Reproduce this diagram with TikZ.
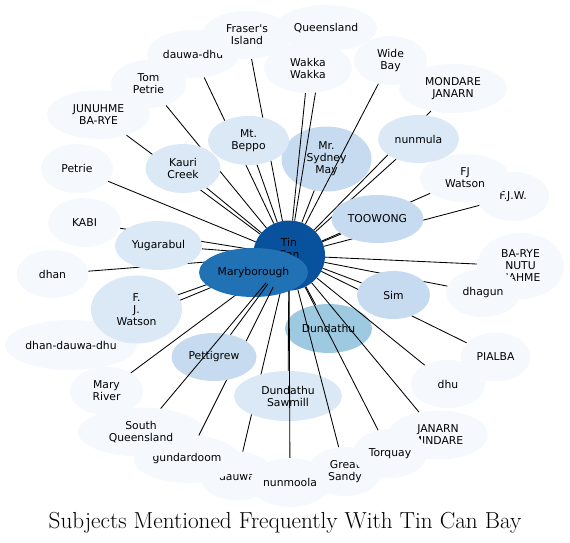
\documentclass[tikz,border=0pt]{standalone}
\usepackage{fontspec}
\newfontfamily\lab{DejaVu Sans}
\usetikzlibrary{shapes.geometric}
\pgfdeclarelayer{ea}
\pgfdeclarelayer{mid}
\pgfdeclarelayer{eb}
\pgfdeclarelayer{fr}
\pgfdeclarelayer{ec}
\pgfsetlayers{main,ea,mid,eb,fr,ec}
\definecolor{c0}{HTML}{F5F9FE}
\definecolor{c1}{HTML}{DBE9F6}
\definecolor{c2}{HTML}{C6DBEF}
\definecolor{c3}{HTML}{9ECAE1}
\definecolor{c4}{HTML}{2171B5}
\definecolor{c5}{HTML}{08519C}
\tikzset{
  nd/.style={ellipse, inner sep=0pt, draw=none, align=center, text=black,
    font=\lab\fontsize{10.8}{12}\selectfont},
  sz/.style 2 args={minimum width=#1pt, minimum height=#2pt},
  v0/.style={nd, fill=c0},
  v1/.style={nd, fill=c1},
  v2/.style={nd, fill=c2},
  v3/.style={nd, fill=c3},
  v4/.style={nd, fill=c4},
  v5/.style={nd, fill=c5},
  ed/.style={draw=black, line width=0.85pt},
  ttl/.style={font=\fontsize{23.2}{27}\selectfont, anchor=base, inner sep=0pt}
}
\begin{document}
\begin{tikzpicture}[x=1pt,y=-1pt]
\useasboundingbox (0,0) rectangle (570,543);
% ---- back nodes ----
\node[v0, sz={102}{46}] (q) at (326,28) {Queensland};
\node[v0, sz={92}{48}] (dd) at (193,54) {dauwa-dhu};
\node[v0, sz={90}{48}] (fi) at (247,35) {Fraser's\\Island};
\node[v0, sz={75}{48}] (tp) at (148.5,84) {Tom\\Petrie};
\node[v0, sz={103}{49}] (ju) at (98.5,114.5) {JUNUHME\\BA-RYE};
\node[v0, sz={72}{49}] (pe) at (77,168.5) {Petrie};
\node[v2, sz={90}{65}] (sm) at (326.5,159) {Mr.\\Sydney\\May};
\node[v0, sz={73}{49}] (wb) at (390.5,60.5) {Wide\\Bay};
\node[v0, sz={108}{49}] (mj) at (453,88.5) {MONDARE\\JANARN};
\node[v0, sz={72}{49}] (fjw) at (513,196.5) {F.J.W.};
\node[v0, sz={90}{48}] (fw) at (465,178) {FJ\\Watson};
\node[v0, sz={87}{66}] (br) at (520.5,266) {BA-RYE\\NUTU\\NAHME};
\node[v0, sz={74}{48}] (dg) at (483,293) {dhagun};
\node[v0, sz={70}{49}] (pi) at (495.5,357) {PIALBA};
\node[v0, sz={74}{48}] (dh) at (448,384) {dhu};
\node[v0, sz={100}{49}] (jm) at (438,435) {JANARN\\MINDARE};
\node[v0, sz={74}{49}] (gs) at (345,471.5) {Great\\Sandy};
\node[v0, sz={74}{49}] (tq) at (390,453.5) {Torquay};
\node[v0, sz={74}{49}] (dw) at (237,476) {dauwa};
\node[v0, sz={106}{48}] (gd) at (187,459) {gundardoom};
\node[v0, sz={80}{49}] (nm) at (290,482.5) {nunmoola};
\node[v0, sz={126}{49}] (sq) at (141,432) {South\\Queensland};
\node[v0, sz={73}{48}] (mr) at (106.5,391) {Mary\\River};
\node[v0, sz={132}{50}] (ddd) at (71,345) {dhan-dauwa-dhu};
\node[v0, sz={72}{48}] (dn) at (52.5,274) {dhan};
\node[v0, sz={73}{49}] (kb) at (84.5,222.5) {KABI};
\node[v3, sz={87}{49}] (du) at (328.5,328.5) {Dundathu};
\node[v5, sz={72}{70}] (t) at (289,255.5) {Tin\\Can\\Bay};
% ---- middle node ----
\begin{pgfonlayer}{mid}
\node[v4, sz={109}{49}] (m) at (253.5,272.5) {Maryborough};
\end{pgfonlayer}
% ---- front nodes ----
\begin{pgfonlayer}{fr}
\node[v1, sz={75}{49}] (kc) at (183,168.5) {Kauri\\Creek};
\node[v1, sz={81}{49}] (mb) at (248.5,140.5) {Mt.\\Beppo};
\node[v0, sz={88}{50}] (ww) at (308,68) {Wakka\\Wakka};
\node[v1, sz={81}{48}] (nu) at (418.5,139) {nunmula};
\node[v2, sz={92}{48}] (to) at (377.5,219) {TOOWONG};
\node[v2, sz={73}{48}] (si) at (393.5,295) {Sim};
\node[v1, sz={87}{49}] (yu) at (158.5,245.5) {Yugarabul};
\node[v1, sz={91}{68}] (fj) at (136.5,309.5) {F.\\J.\\Watson};
\node[v2, sz={85}{48}] (pt) at (214,357) {Pettigrew};
\node[v1, sz={108}{50}] (sw) at (288,396) {Dundathu\\Sawmill};
\end{pgfonlayer}
% ---- edges under the front nodes ----
\begin{pgfonlayer}{ea}
\foreach \n in {q,dd,fi,tp,ju,pe,sm,wb,mj,fjw,fw,br,dg,pi,dh,jm,tq,dw,mr,ddd,dn,kb,du,kc,mb,ww,nu,to,si,yu,fj,sw}
  \draw[ed] (\n) -- (t);
\end{pgfonlayer}
\begin{pgfonlayer}{eb}
\draw[ed] (gd) -- (t);
\end{pgfonlayer}
% ---- edges over everything ----
\begin{pgfonlayer}{ec}
\draw[ed] (pt) -- (t);
\draw[ed] (sq) -- (t);
\draw[ed] (nm) -- (t);
\draw[ed] (gs) -- (t);
\end{pgfonlayer}
\node[ttl] (title) at (285,528) {Subjects Mentioned Frequently With Tin Can Bay};
\end{tikzpicture}
\end{document}
